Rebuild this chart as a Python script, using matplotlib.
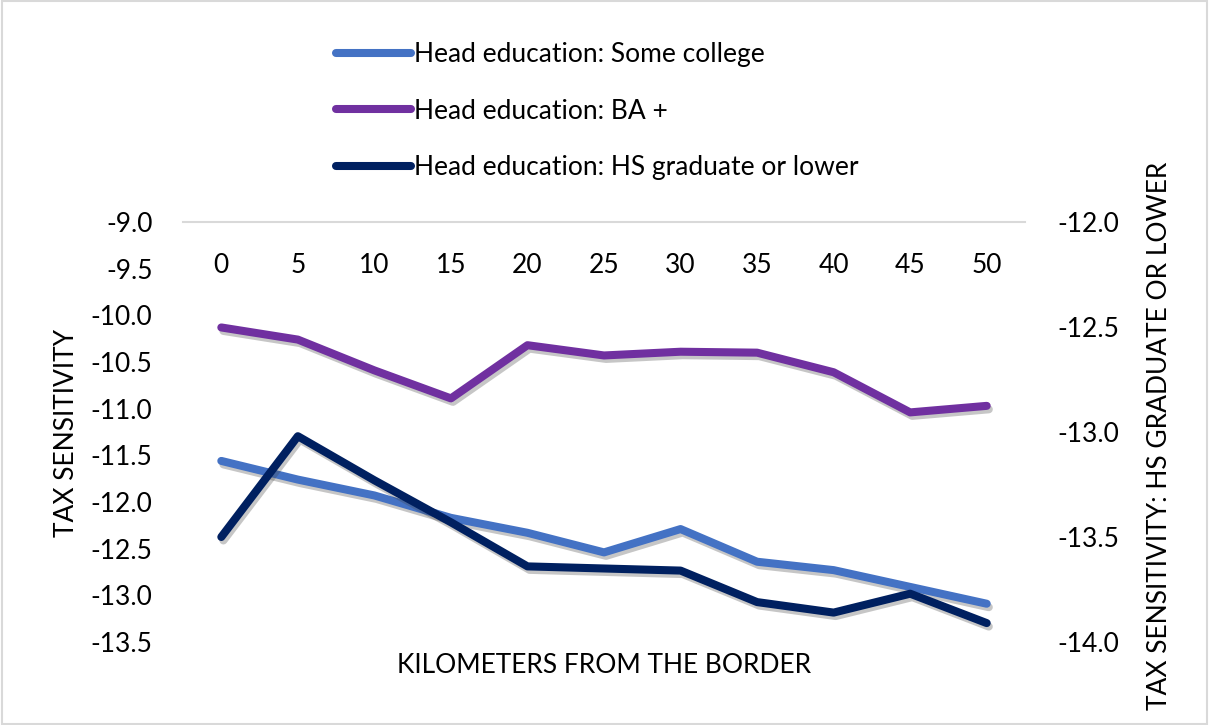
import matplotlib
matplotlib.use("Agg")
import matplotlib.pyplot as plt
import matplotlib.patheffects as pe
from matplotlib.patches import Rectangle

km = [0, 5, 10, 15, 20, 25, 30, 35, 40, 45, 50]
some_college = [-11.56, -11.76, -11.93, -12.17, -12.33, -12.54, -12.29, -12.64, -12.73, -12.91, -13.09]
ba_plus = [-10.13, -10.26, -10.59, -10.89, -10.32, -10.43, -10.39, -10.40, -10.61, -11.04, -10.97]
hs_lower = [-13.50, -13.02, -13.23, -13.43, -13.64, -13.65, -13.66, -13.81, -13.86, -13.77, -13.91]

left_ticks = [-9.0, -9.5, -10.0, -10.5, -11.0, -11.5, -12.0, -12.5, -13.0, -13.5]
right_ticks = [-12.0, -12.5, -13.0, -13.5, -14.0]

plt.rcParams['font.family'] = ['Lato', 'DejaVu Sans']
FS = 19

fig = plt.figure(figsize=(12.09, 7.25), dpi=100)
fig.patches.append(Rectangle((0.002, 0.002), 0.996, 0.996, transform=fig.transFigure,
                             fill=False, edgecolor='#D9D9D9', linewidth=1.5))
ax = fig.add_axes([0.1514, 0.1145, 0.6964, 0.5793])
ax2 = ax.twinx()

shadow = [pe.SimpleLineShadow(offset=(1.5, -2.5), shadow_color='#444444', alpha=0.3), pe.Normal()]
lw = 5.8
l1, = ax.plot(km, some_college, color='#4472C4', lw=lw, solid_capstyle='round',
              solid_joinstyle='round', path_effects=shadow, label='Head education: Some college')
l2, = ax.plot(km, ba_plus, color='#7030A0', lw=lw, solid_capstyle='round',
              solid_joinstyle='round', path_effects=shadow, label='Head education: BA +')
l3, = ax2.plot(km, hs_lower, color='#002060', lw=lw, solid_capstyle='round',
               solid_joinstyle='round', path_effects=shadow, label='Head education: HS graduate or lower')

ax.set_xlim(-2.5, 52.5)
ax.set_ylim(-13.5, -9.0)
ax2.set_ylim(-14.0, -12.0)
ax.set_yticks(left_ticks)
ax.set_yticklabels([f"{v:.1f}" for v in left_ticks])
ax2.set_yticks(right_ticks)
ax2.set_yticklabels([f"{v:.1f}" for v in right_ticks])

for a in (ax, ax2):
    for s in ('left', 'right', 'bottom', 'top'):
        a.spines[s].set_visible(False)
    a.tick_params(axis='y', length=0, labelsize=FS, colors='#000000')
ax.tick_params(axis='y', pad=22)
ax2.tick_params(axis='y', pad=23)
ax.spines['top'].set_visible(True)
ax.spines['top'].set_color('#D9D9D9')
ax.spines['top'].set_linewidth(1.5)

ax.xaxis.tick_top()
ax.set_xticks(km)
ax.set_xticklabels([str(k) for k in km])
ax.tick_params(axis='x', length=0, labelsize=FS, pad=-40)

ax.set_xlabel('KILOMETERS FROM THE BORDER', fontsize=FS)
ax.xaxis.set_label_position('bottom')
ax.xaxis.labelpad = 8
ax.set_ylabel('TAX SENSITIVITY', fontsize=FS)
ax.yaxis.set_label_coords(-0.123, 0.497)
ax2.set_ylabel('TAX SENSITIVITY: HS GRADUATE OR LOWER', fontsize=FS, rotation=90)
ax2.yaxis.set_label_coords(1.145, 0.49)

leg = fig.legend(handles=[l1, l2, l3], loc='upper left', bbox_to_anchor=(0.258, 0.975),
                 frameon=False, fontsize=FS, handlelength=2.85, handletextpad=0.1,
                 labelspacing=1.2)
for h in leg.legend_handles:
    h.set_path_effects([])

fig.savefig('out.png', dpi=100)
